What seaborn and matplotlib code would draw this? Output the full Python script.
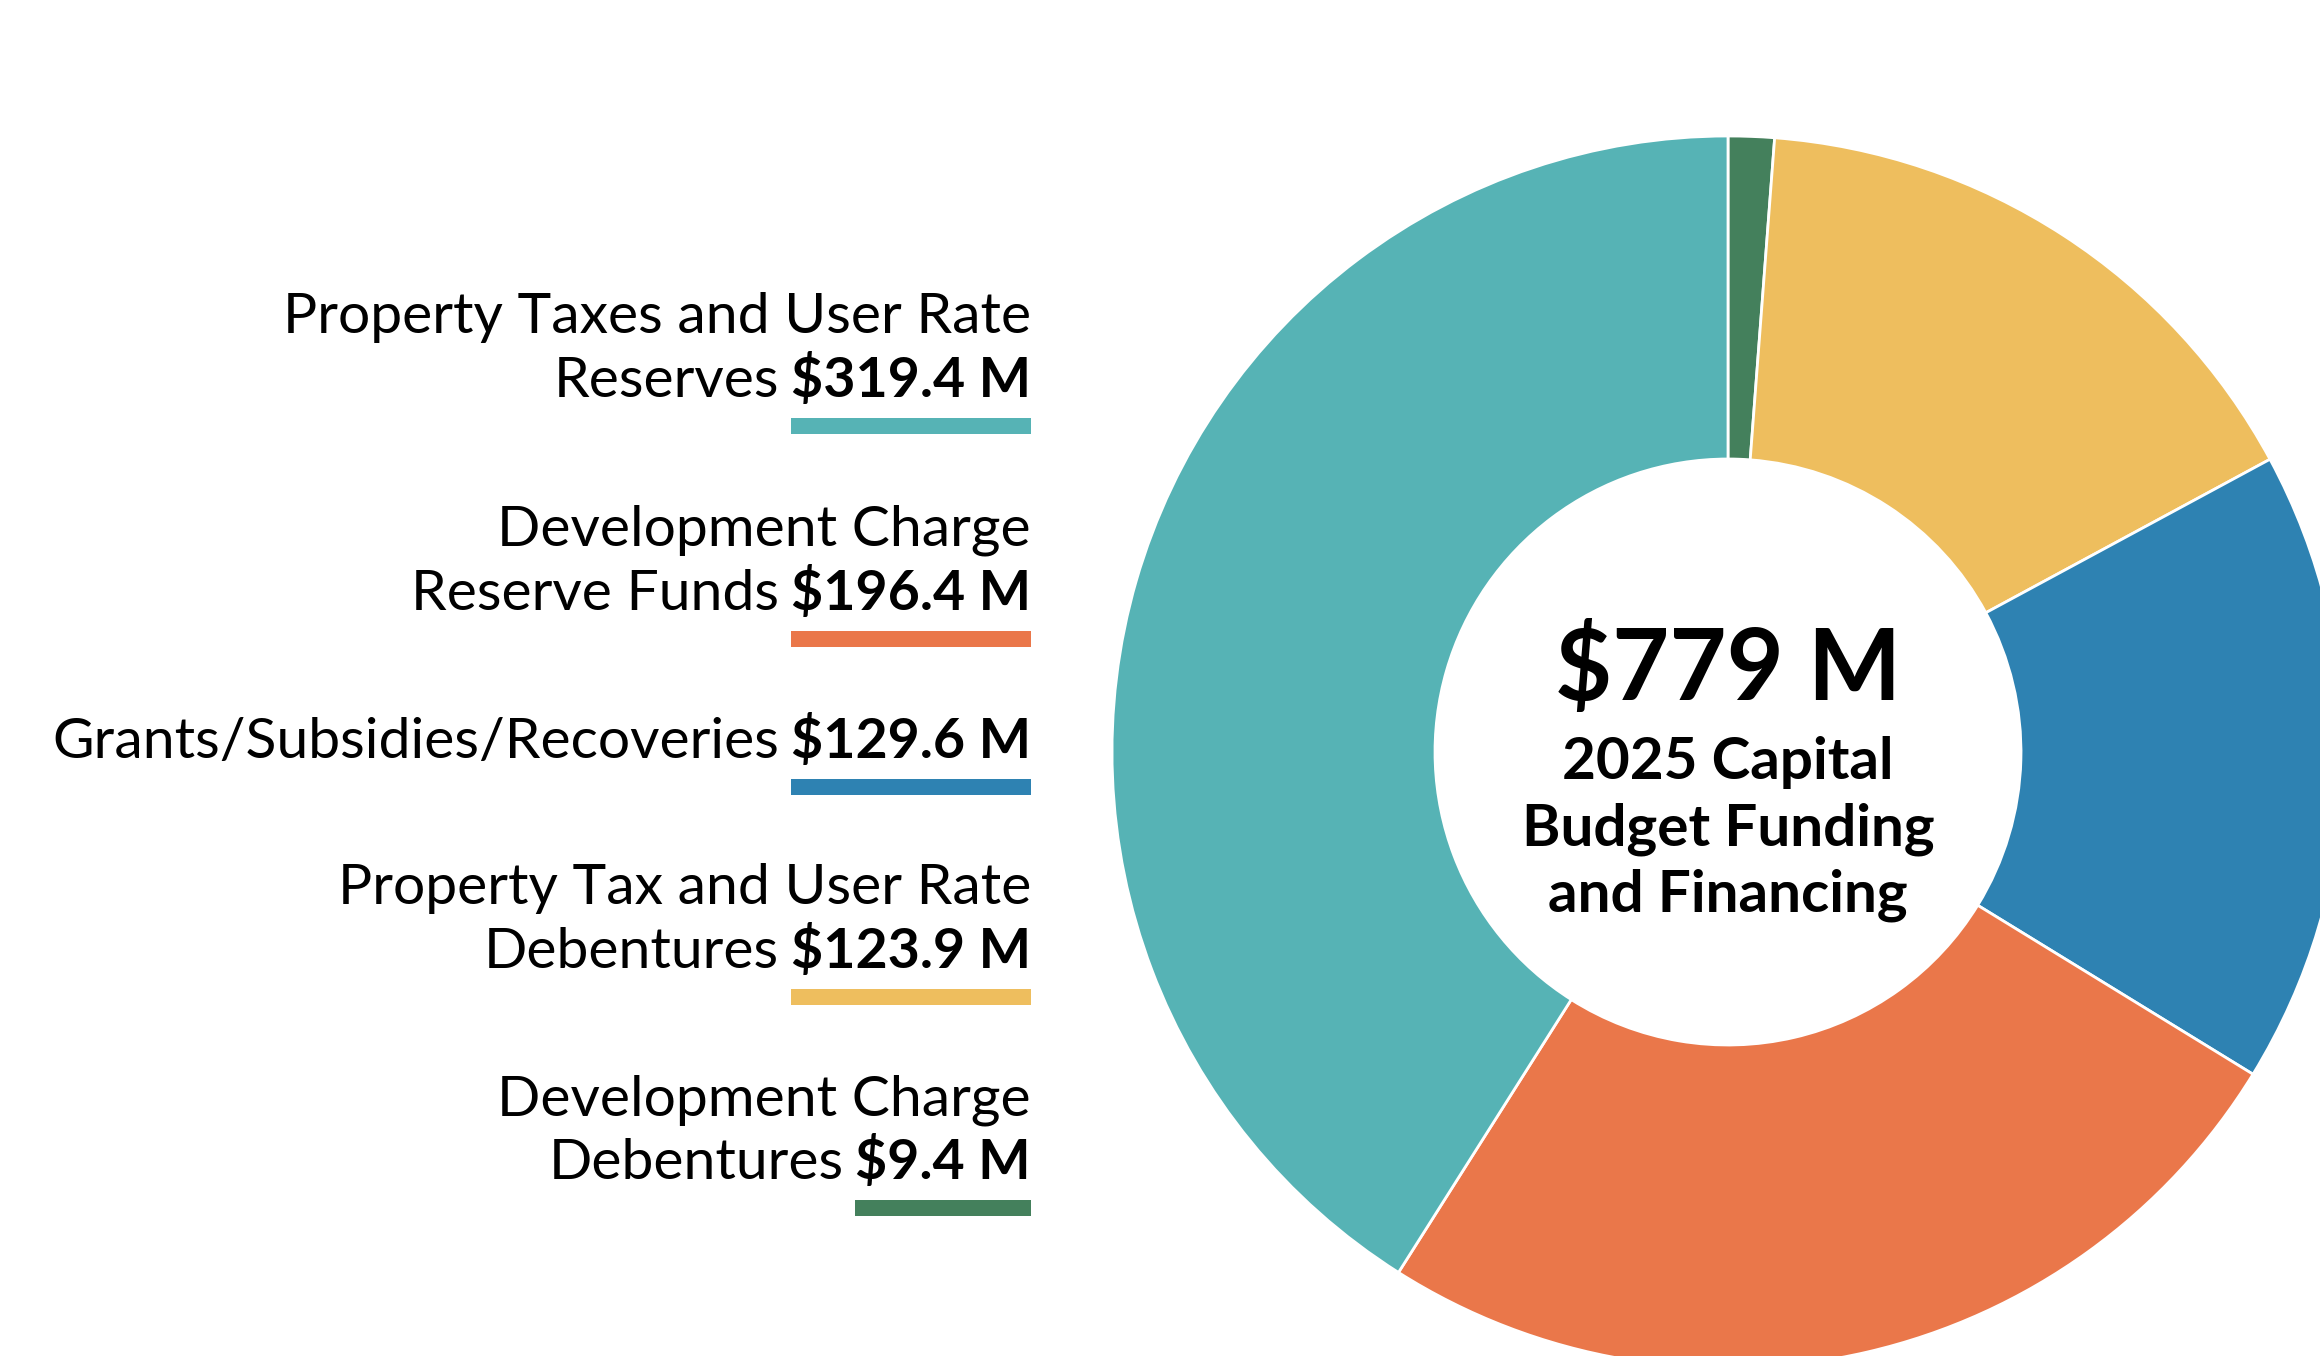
import matplotlib
matplotlib.use('Agg')
import matplotlib.pyplot as plt
import seaborn as sns
import numpy as np

sns.set_theme(style='white')
plt.rcParams['font.family'] = ['Lato', 'DejaVu Sans']

# 데이터 (도넛 그리는 순서: 12시 방향부터 시계방향)
sources = ['Development Charge Debentures',
           'Property Tax and User Rate Debentures',
           'Grants/Subsidies/Recoveries',
           'Development Charge Reserve Funds',
           'Property Taxes and User Rate Reserves']
amounts = [9.4, 123.9, 129.6, 196.4, 319.4]
colors = ['#44805C', '#EEBE5E', '#2E82B2', '#EA774A', '#56B3B5']

# 왼쪽 라벨 (위에서 아래 순서)
label_lines = [['Property Taxes and User Rate', 'Reserves'],
               ['Development Charge', 'Reserve Funds'],
               ['Grants/Subsidies/Recoveries'],
               ['Property Tax and User Rate', 'Debentures'],
               ['Development Charge', 'Debentures']]
label_values = ['$319.4 M', '$196.4 M', '$129.6 M', '$123.9 M', '$9.4 M']
label_colors = ['#56B3B5', '#EA774A', '#2E82B2', '#EEBE5E', '#44805C']

total_text = '$779 M'
center_lines = ['2025 Capital', 'Budget Funding', 'and Financing']

W, H = 2320, 1356
fig = plt.figure(figsize=(W / 100, H / 100), dpi=100)
ax = fig.add_axes([0, 0, 1, 1])

# 도넛
cx, cy = 1728, H - 752
r_out, r_in = 616, 293
ax.pie(amounts, colors=colors, startangle=90, counterclock=False,
       center=(cx, cy), radius=r_out,
       wedgeprops=dict(width=r_out - r_in, edgecolor='white', linewidth=2))
ax.set_xlim(0, W)
ax.set_ylim(0, H)
ax.set_aspect('auto')
ax.axis('off')

# 가운데 글씨
ax.text(cx, H - 700, total_text, ha='center', va='baseline',
        fontsize=71, fontweight='bold', color='black')
for i, line in enumerate(center_lines):
    ax.text(cx, H - (779 + 66 * i), line, ha='center', va='baseline',
            fontsize=42, fontweight='bold', color='black')

# 왼쪽 라벨 + 색 막대
right_x = 1031
group_base = [397, 610, 758, 968, 1179]  # 마지막 줄 baseline (위에서부터 px)
line_gap = 64
fig.canvas.draw()
renderer = fig.canvas.get_renderer()
for lines, val, col, yb in zip(label_lines, label_values, label_colors, group_base):
    y = H - yb
    tv = ax.text(right_x, y, val, ha='right', va='baseline',
                 fontsize=40, fontweight='bold', color='black')
    bb = tv.get_window_extent(renderer=renderer)
    x0 = bb.x0
    ax.text(x0 - 12, y, lines[-1], ha='right', va='baseline',
            fontsize=41, color='black')
    if len(lines) > 1:
        ax.text(right_x, y + line_gap, lines[0], ha='right', va='baseline',
                fontsize=41, color='black')
    ax.add_patch(plt.Rectangle((x0, y - 37), right_x - x0, 16,
                               color=col, lw=0))

fig.savefig('out.png', dpi=100, facecolor='white')
